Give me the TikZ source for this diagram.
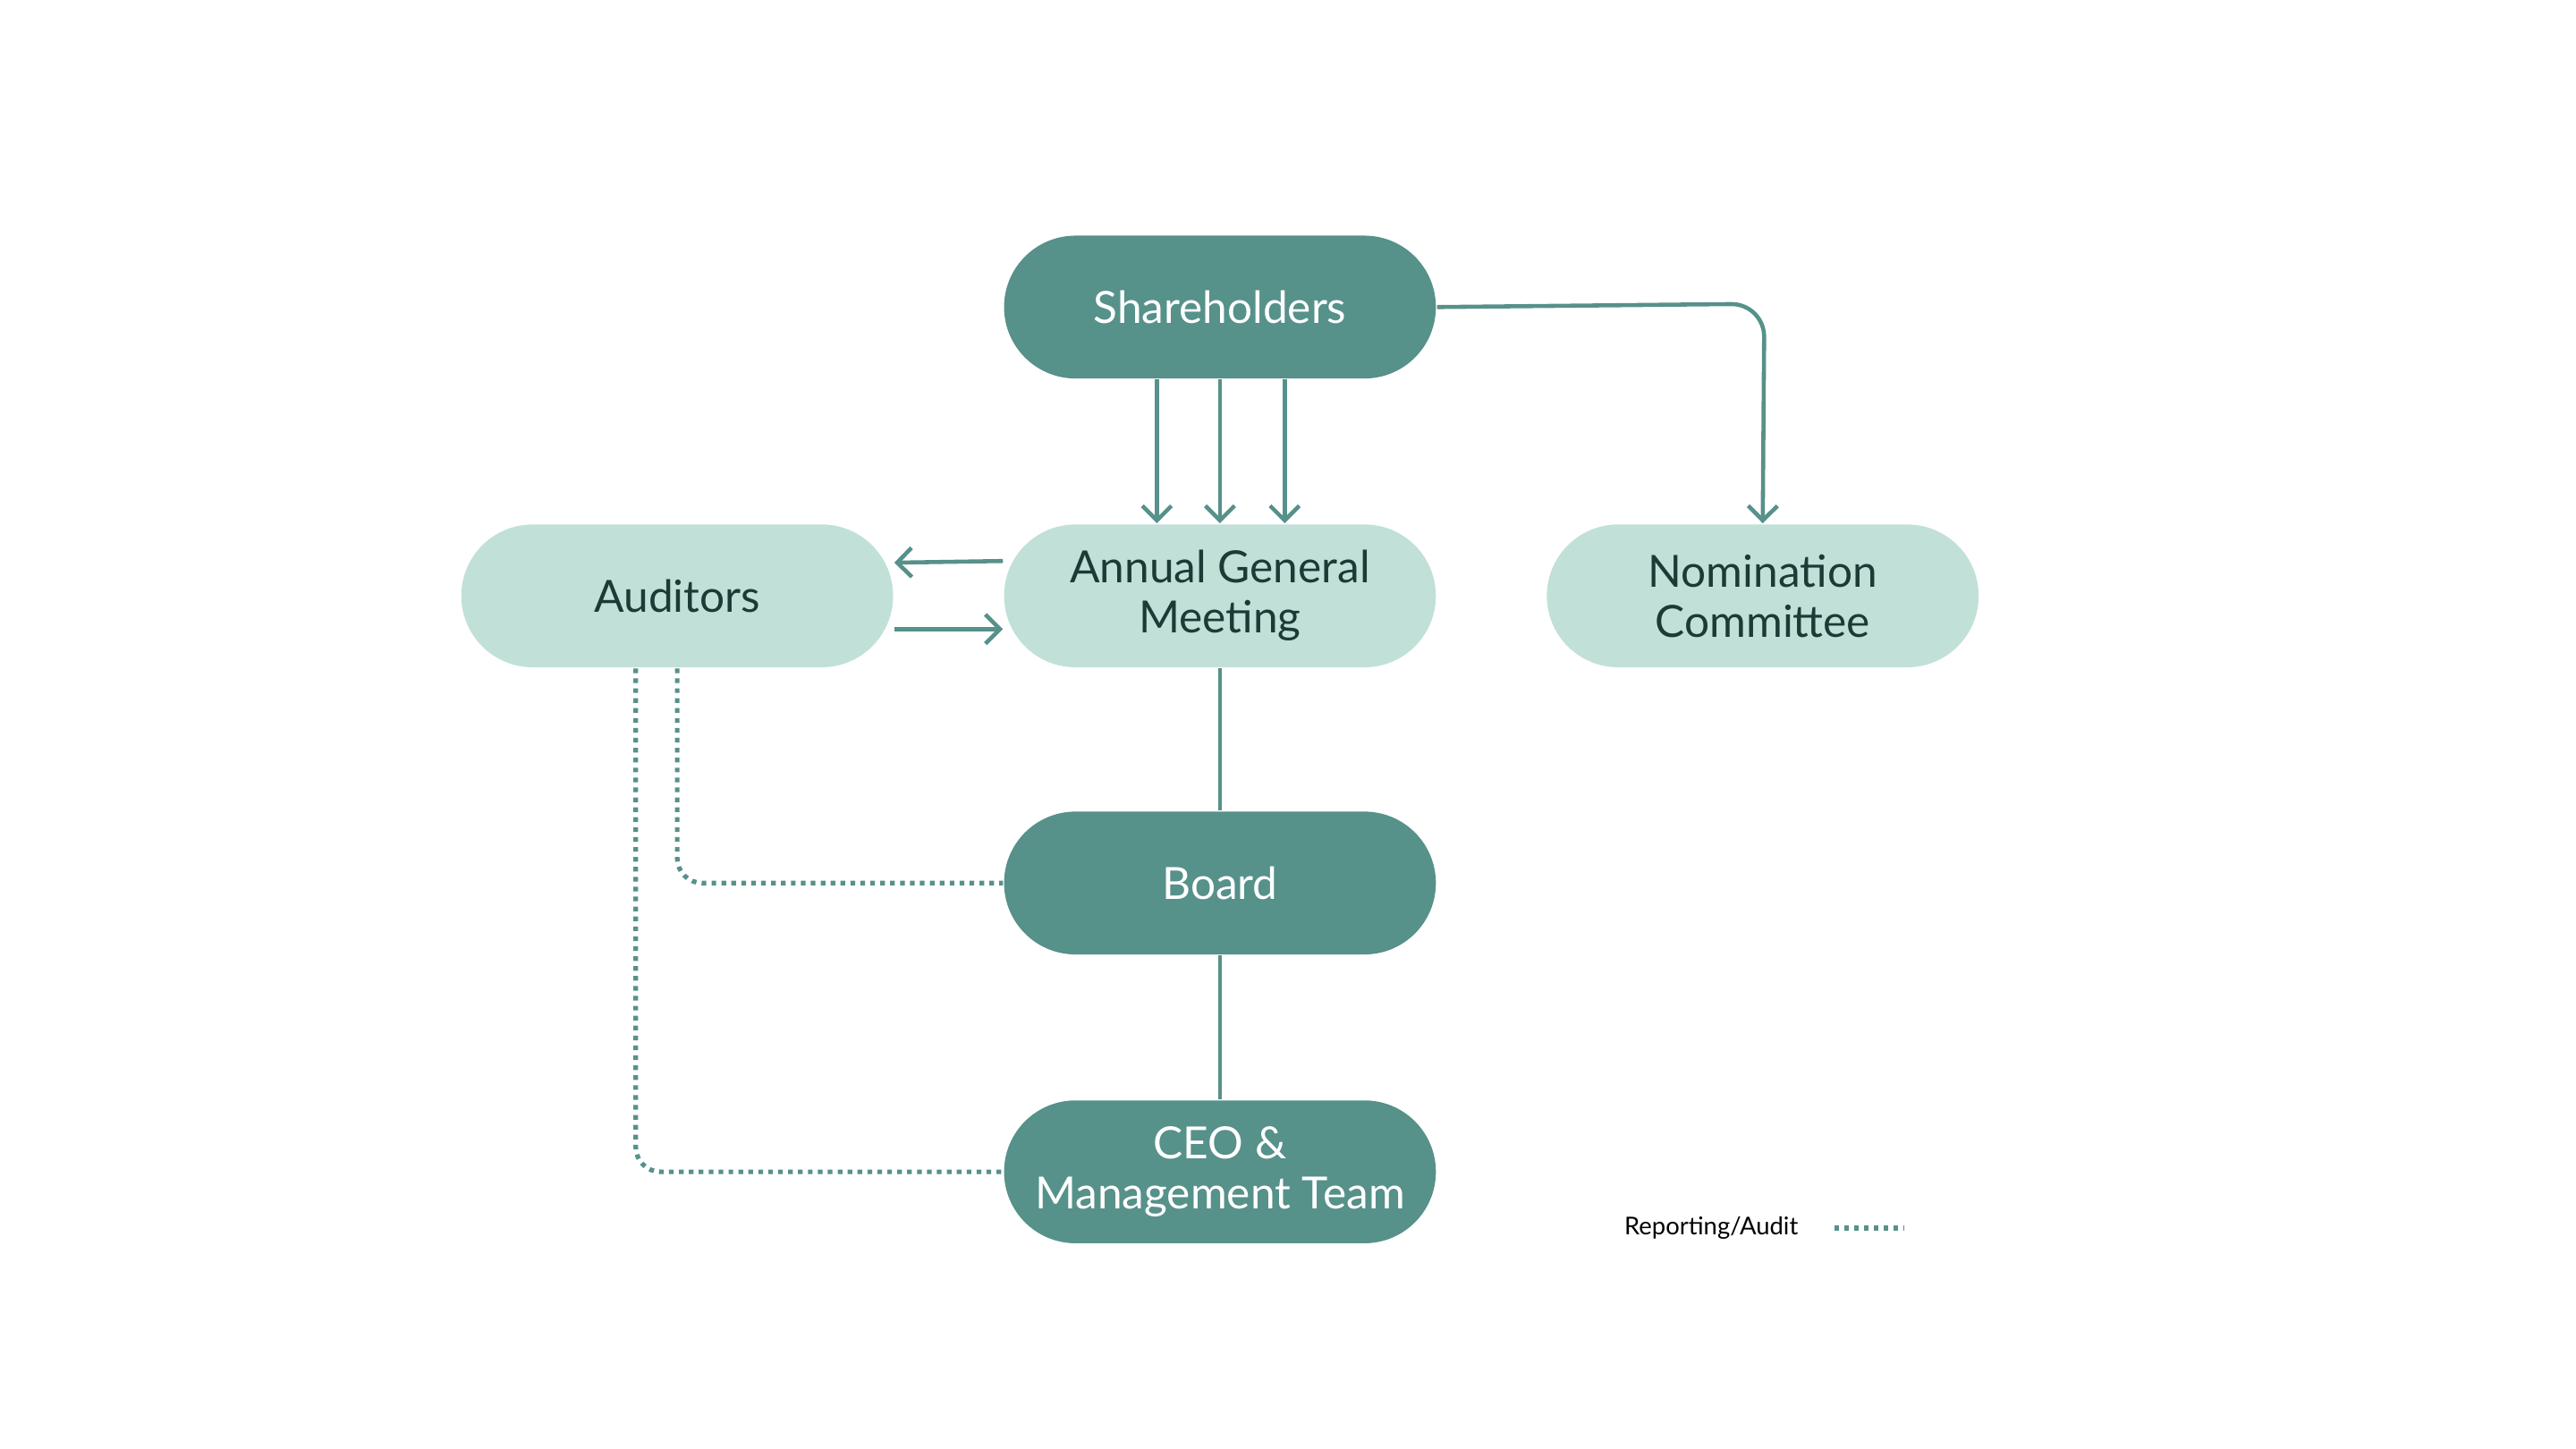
\documentclass[tikz,border=0pt]{standalone}
\usepackage{fontspec}
\setmainfont{Lato}
\usetikzlibrary{arrows.meta}
\definecolor{dark}{HTML}{56918A}
\definecolor{light}{HTML}{C1E0D8}
\definecolor{txt}{HTML}{1E3A36}
\begin{document}
\begin{tikzpicture}[x=0.01cm,y=-0.01cm,
  box/.style={rectangle, minimum width=2.6cm, minimum height=0.86cm, inner sep=0pt, align=center, font=\fontsize{7.6}{8.6}\selectfont, rounded corners=0.43cm, draw=none},
  dk/.style={box, fill=dark, text=white},
  lt/.style={box, fill=light, text=txt},
  ln/.style={draw=dark, line width=0.7pt},
  ar/.style={ln, -{Straight Barb[length=2.5pt,width=5pt]}},
  dt/.style={draw=dark, line width=0.8pt, dash pattern=on 0.8pt off 0.9pt, rounded corners=0.15cm}]
\useasboundingbox (0,0) rectangle (1552,873);
\node[dk] (sh) at (735,185) {Shareholders};
\node[lt] (agm) at (735,359) {Annual General\\Meeting};
\node[lt] (aud) at (408,359) {Auditors};
\node[lt] (nom) at (1062,359) {Nomination\\Committee};
\node[dk] (bd) at (735,532) {Board};
\node[dk] (ceo) at (735,706) {CEO \&\\Management Team};
\foreach \x in {697,735,774} \draw[ar] (sh.south -| \x,0) -- (agm.north -| \x,0);
\draw[ar, rounded corners=0.2cm] (sh.east) -- (1063,183) -- (nom.north);
\draw[ar] ([yshift=0.21cm]agm.west) -- ([yshift=0.2cm]aud.east);
\draw[ar] ([yshift=-0.2cm]aud.east) -- ([yshift=-0.2cm]agm.west);
\draw[ln] (agm) -- (bd);
\draw[ln] (bd) -- (ceo);
\draw[dt] (aud.south) -- (408,532) -- (bd.west);
\draw[dt] (aud.south -| 383,0) -- (383,706) -- (ceo.west);
\node[font=\fontsize{4.2}{5}\selectfont, text=black] (lg) at (1031,740) {Reporting/Audit};
\coordinate (l1) at (1105,740); \coordinate (l2) at (1147,740);
\draw[dt, line width=1pt] (l1) -- (l2);
\end{tikzpicture}
\end{document}
